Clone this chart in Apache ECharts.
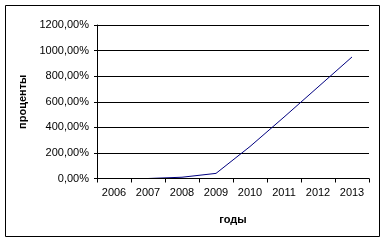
<!DOCTYPE html>
<html><head><meta charset="utf-8">
<script src="https://cdn.jsdelivr.net/npm/echarts@6/dist/echarts.min.js"></script>
<style>html,body{margin:0;padding:0;background:#fff}#c{width:385px;height:243px}</style>
</head><body><div id="c"></div>
<script>
const categories = ['2006','2007','2008','2009','2010','2011','2012','2013'];
const values = [0, 0, 10, 40, 250, 480, 715, 950];
const yTicks = [0, 200, 400, 600, 800, 1000, 1200];
const xTitle = 'годы';
const yTitle = 'проценты';

const chart = echarts.init(document.getElementById('c'), null, {renderer:'canvas'});
const font = 'Liberation Sans, Arial, sans-serif';
chart.setOption({
  animation: false,
  backgroundColor: '#fff',
  graphic: [{type:'rect', shape:{x:5.5,y:5.5,width:374,height:231}, style:{fill:'none', stroke:'#000', lineWidth:1}, z:-1}],
  grid: {left:97, right:16, top:25, bottom:64.5, containLabel:false},
  xAxis: {
    type:'category', data:categories, boundaryGap:true, z:10, zlevel:1,
    axisLine:{lineStyle:{color:'#000', width:1}},
    axisTick:{show:true, length:4, inside:false, alignWithLabel:false, lineStyle:{color:'#000'}},
    axisLabel:{color:'#000', fontFamily:font, fontSize:11, margin:9},
    name:xTitle, nameLocation:'middle', nameGap:36,
    nameTextStyle:{color:'#000', fontFamily:font, fontSize:11, fontWeight:'bold'}
  },
  yAxis: {
    type:'value', min:yTicks[0], max:yTicks[yTicks.length-1], interval:200,
    axisLine:{show:true, lineStyle:{color:'#000', width:1}},
    axisTick:{show:true, length:3, lineStyle:{color:'#000'}},
    splitLine:{show:true, lineStyle:{color:'#000', width:1}},
    axisLabel:{color:'#000', fontFamily:font, fontSize:11, margin:8,
      formatter: v => v.toFixed(2).replace('.', ',') + '%'},
    name:yTitle, nameLocation:'middle', nameGap:66, nameRotate:90,
    nameTextStyle:{color:'#000', fontFamily:font, fontSize:11, fontWeight:'bold'}
  },
  series: [{
    type:'line', data:values, symbol:'none', z:1,
    lineStyle:{color:'#000080', width:1}
  }]
});
</script></body></html>
